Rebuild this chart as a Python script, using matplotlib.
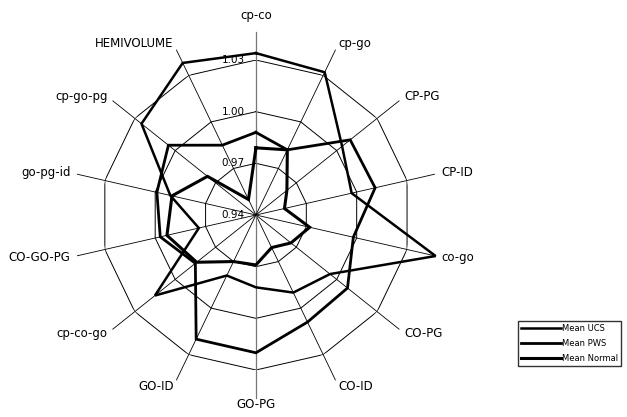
import numpy as np
import matplotlib.pyplot as plt

# Axis names, clockwise from the top
labels = ["cp-co", "cp-go", "CP-PG", "CP-ID", "co-go", "CO-PG", "CO-ID",
          "GO-PG", "GO-ID", "cp-co-go", "CO-GO-PG", "go-pg-id", "cp-go-pg",
          "HEMIVOLUME"]

mean_ucs = [1.034, 1.032, 1.004, 0.997, 1.047, 0.995, 0.990,
            0.982, 0.979, 1.015, 0.974, 0.991, 1.025, 1.038]
mean_pws = [0.988, 0.982, 1.010, 1.011, 0.998, 1.008, 1.009,
            1.020, 1.020, 0.985, 0.997, 0.999, 1.005, 0.985]
mean_normal = [0.979, 0.982, 0.963, 0.957, 0.972, 0.966, 0.961,
               0.969, 0.970, 0.984, 0.993, 0.990, 0.976, 0.950]

ring_values = [0.97, 1.00, 1.03]
tick_values = [0.94, 0.97, 1.00, 1.03]
tick_labels = ["0.94", "0.97", "1.00", "1.03"]
r_min, r_max = 0.94, 1.03

n = len(labels)
angles = np.arange(n) * 2 * np.pi / n
closed = np.append(angles, angles[0])

fig = plt.figure(figsize=(6.27, 4.17), dpi=100)
ax = fig.add_axes([0.161, 0.1127, 0.4944, 0.7434], projection="polar")
ax.set_theta_zero_location("N")
ax.set_theta_direction(-1)
ax.set_ylim(r_min, r_max)
ax.axis("off")

# polygon grid rings
for v in ring_values:
    ax.plot(closed, [v] * (n + 1), color="black", lw=0.7, zorder=1)

# spokes run past the outer ring towards the labels
spoke_end = 1.0463
for i, a in enumerate(angles):
    if i in (0, 7):
        ax.plot([a, a], [r_min, spoke_end], color="#777777", lw=0.9,
                zorder=1, clip_on=False)
    else:
        ax.plot([a, a], [r_min, spoke_end], color="black", lw=0.6,
                zorder=1, clip_on=False)

for a, name in zip(angles, labels):
    s, c = np.sin(a), np.cos(a)
    if c > 0.99:
        ax.text(a, 1.0521, name, ha="center", va="bottom", fontsize=8.5)
    elif c < -0.99:
        ax.text(a, 1.0463, name, ha="center", va="top", fontsize=8.5)
    else:
        ha = "left" if s > 0 else "right"
        ax.text(a, 1.0503, name, ha=ha, va="center", fontsize=8.5)

for v, t in zip(tick_values, tick_labels):
    ax.annotate(t, xy=(0, v), xytext=(-8, 0), textcoords="offset points",
                ha="right", va="center", fontsize=7.5)

series = [(mean_ucs, 1.8, "Mean UCS"),
          (mean_pws, 2.0, "Mean PWS"),
          (mean_normal, 2.2, "Mean Normal")]
handles = []
for vals, lw, name in series:
    h, = ax.plot(closed, vals + vals[:1], color="black", lw=lw, zorder=3,
                 label=name, clip_on=False, solid_joinstyle="miter")
    handles.append(h)

fig.legend(handles=handles, loc="lower left", bbox_to_anchor=(0.826, 0.122),
           fontsize=6, frameon=True, fancybox=False, edgecolor="black",
           handlelength=4.8, borderpad=0.35, labelspacing=0.75,
           handletextpad=0.15, borderaxespad=0)

fig.savefig("out.png", dpi=100)
